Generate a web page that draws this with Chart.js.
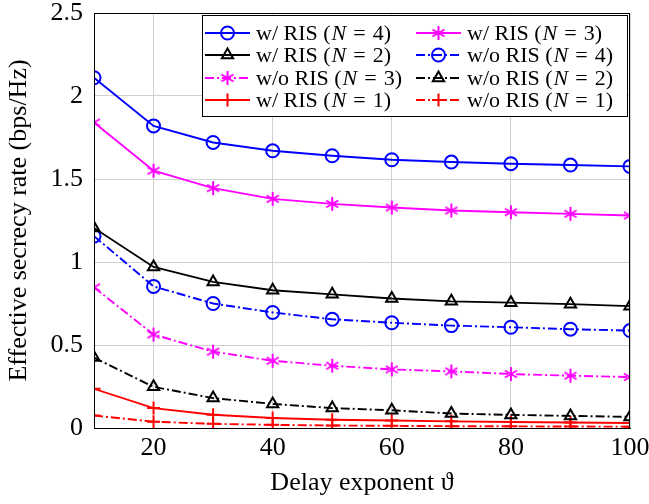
<!DOCTYPE html>
<html lang="en">
<head>
    <meta charset="UTF-8">
    <title>Effective secrecy rate vs delay exponent</title>
    <script src="https://cdn.jsdelivr.net/npm/chart.js"></script>
    <style>
        html, body { margin: 0; padding: 0; background: #fff; }
    </style>
</head>
<body>
    <canvas id="myChart" width="649" height="504"></canvas>
    <script>
        // data
        const delayExp = [10, 20, 30, 40, 50, 60, 70, 80, 90, 100];
        const xTicks = [20, 40, 60, 80, 100];

        const risN4 = [2.11, 1.82, 1.72, 1.67, 1.64, 1.616, 1.602, 1.592, 1.584, 1.576];
        const risN3 = [1.84, 1.55, 1.445, 1.38, 1.35, 1.328, 1.31, 1.30, 1.29, 1.28];
        const risN2 = [1.205, 0.97, 0.88, 0.83, 0.805, 0.78, 0.763, 0.755, 0.746, 0.734];
        const noRisN4 = [1.156, 0.853, 0.75, 0.696, 0.655, 0.634, 0.617, 0.607, 0.595, 0.587];
        const noRisN3 = [0.847, 0.563, 0.46, 0.405, 0.375, 0.353, 0.341, 0.325, 0.315, 0.307];
        const noRisN2 = [0.424, 0.248, 0.18, 0.145, 0.12, 0.107, 0.087, 0.079, 0.073, 0.067];
        const risN1 = [0.236, 0.12, 0.08, 0.06, 0.05, 0.045, 0.04, 0.036, 0.033, 0.03];
        const noRisN1 = [0.075, 0.038, 0.025, 0.019, 0.015, 0.013, 0.011, 0.01, 0.009, 0.008];

        const FONT = '"Liberation Serif", "DejaVu Serif", serif';
        const dashDot = [9, 3, 2, 3];

        // 6-arm asterisk like the pgfplots one
        function asterisk(color) {
            const c = document.createElement('canvas');
            c.width = 16; c.height = 16;
            const g = c.getContext('2d');
            g.strokeStyle = color;
            g.lineWidth = 2;
            [90, 30, 150].forEach(deg => {
                const r = deg * Math.PI / 180;
                const dx = Math.cos(r) * 7, dy = Math.sin(r) * 7;
                g.beginPath();
                g.moveTo(8 - dx, 8 - dy);
                g.lineTo(8 + dx, 8 + dy);
                g.stroke();
            });
            return c;
        }
        const magentaStar = asterisk('#ff00ff');

        function series(label, values, color, marker, dashed) {
            return {
                label: label,
                data: delayExp.map((x, i) => ({ x: x, y: values[i] })),
                borderColor: color,
                backgroundColor: 'rgba(0,0,0,0)',
                borderWidth: 1.9,
                borderDash: dashed ? dashDot : [],
                pointStyle: marker,
                pointRadius: 6.5,
                pointBorderColor: color,
                pointBackgroundColor: 'rgba(0,0,0,0)',
                pointBorderWidth: 2,
                fill: false,
                tension: 0
            };
        }

        const datasets = [
            series('w/ RIS (N = 4)', risN4, '#0000ff', 'circle', false),
            series('w/ RIS (N = 3)', risN3, '#ff00ff', magentaStar, false),
            series('w/ RIS (N = 2)', risN2, '#000000', 'triangle', false),
            series('w/o RIS (N = 4)', noRisN4, '#0000ff', 'circle', true),
            series('w/o RIS (N = 3)', noRisN3, '#ff00ff', magentaStar, true),
            series('w/o RIS (N = 2)', noRisN2, '#000000', 'triangle', true),
            series('w/ RIS (N = 1)', risN1, '#ff0000', 'cross', false),
            series('w/o RIS (N = 1)', noRisN1, '#ff0000', 'cross', true)
        ];

        // label text with an italic N and spaced "="
        function drawLabel(ctx, text, x, y) {
            const m = text.match(/^(.*\()N = (.*)$/);
            const pieces = [
                [m[1], '', 1],
                ['N', 'italic ', 7],
                ['=', '', 7],
                [m[2], '', 0]
            ];
            pieces.forEach(p => {
                ctx.font = p[1] + '22px ' + FONT;
                ctx.fillText(p[0], x, y);
                x += ctx.measureText(p[0]).width + p[2];
            });
        }

        // frame around the plot and the legend box inside it
        const framePlugin = {
            id: 'frame',
            afterDraw(chart) {
                const ctx = chart.ctx;
                const a = chart.chartArea;
                ctx.save();
                ctx.strokeStyle = '#000';
                ctx.lineWidth = 1;
                ctx.strokeRect(a.left + 0.5, a.top + 0.5, a.right - a.left - 1, a.bottom - a.top);

                // legend
                const bx = 202, by = 15, bw = 425, bh = 101;
                ctx.fillStyle = '#fff';
                ctx.fillRect(bx, by, bw, bh);
                ctx.strokeRect(bx + 0.5, by + 0.5, bw, bh);
                ctx.textBaseline = 'middle';
                const rowY = [33, 55, 78, 100];
                const colX = [205, 416];
                chart.data.datasets.forEach((ds, i) => {
                    const col = i % 2, row = Math.floor(i / 2);
                    const x0 = colX[col], y = rowY[row];
                    ctx.strokeStyle = ds.borderColor;
                    ctx.lineWidth = ds.borderWidth;
                    ctx.setLineDash(ds.borderDash);
                    ctx.beginPath();
                    ctx.moveTo(x0, y);
                    ctx.lineTo(x0 + 45, y);
                    ctx.stroke();
                    ctx.setLineDash([]);
                    ctx.lineWidth = ds.pointBorderWidth;
                    ctx.fillStyle = 'rgba(0,0,0,0)';
                    Chart.helpers.drawPoint(ctx, {
                        pointStyle: ds.pointStyle,
                        radius: ds.pointRadius,
                        borderWidth: ds.pointBorderWidth
                    }, x0 + 22.5, y);
                    ctx.fillStyle = '#000';
                    drawLabel(ctx, ds.label, x0 + 51, y + 1);
                });
                ctx.restore();
            }
        };

        const ctx = document.getElementById('myChart').getContext('2d');
        new Chart(ctx, {
            type: 'line',
            data: { datasets: datasets },
            options: {
                responsive: false,
                animation: false,
                layout: { padding: { left: 2, right: 0, top: 0, bottom: 0 } },
                plugins: {
                    legend: { display: false },
                    tooltip: { enabled: false }
                },
                scales: {
                    x: {
                        type: 'linear',
                        min: 10,
                        max: 100,
                        afterBuildTicks: (scale) => { scale.ticks = xTicks.map(v => ({ value: v })); },
                        afterFit: (scale) => {
                            scale.height = 76;
                            scale.paddingLeft = 0;
                            scale.paddingRight = 19;
                        },
                        grid: { color: '#d0d0d0', drawTicks: false },
                        border: { color: '#000', width: 1 },
                        ticks: { color: '#000', font: { family: FONT, size: 26 }, padding: 5, maxRotation: 0 },
                        title: {
                            display: true,
                            text: 'Delay exponent ϑ',
                            color: '#000',
                            font: { family: FONT, size: 26 },
                            padding: { top: 0, bottom: 5 }
                        }
                    },
                    y: {
                        min: 0,
                        max: 2.5,
                        ticks: {
                            stepSize: 0.5,
                            color: '#000',
                            font: { family: FONT, size: 26 },
                            padding: 11,
                            callback: (v) => String(Math.round(v * 10) / 10)
                        },
                        afterFit: (scale) => {
                            scale.width = 92;
                            scale.paddingTop = 13;
                            scale.paddingBottom = 0;
                        },
                        grid: { color: '#d0d0d0', drawTicks: false },
                        border: { color: '#000', width: 1 },
                        title: {
                            display: true,
                            text: 'Effective secrecy rate (bps/Hz)',
                            color: '#000',
                            font: { family: FONT, size: 26 },
                            padding: { top: 2, bottom: 0 }
                        }
                    }
                }
            },
            plugins: [framePlugin]
        });
    </script>
</body>
</html>
